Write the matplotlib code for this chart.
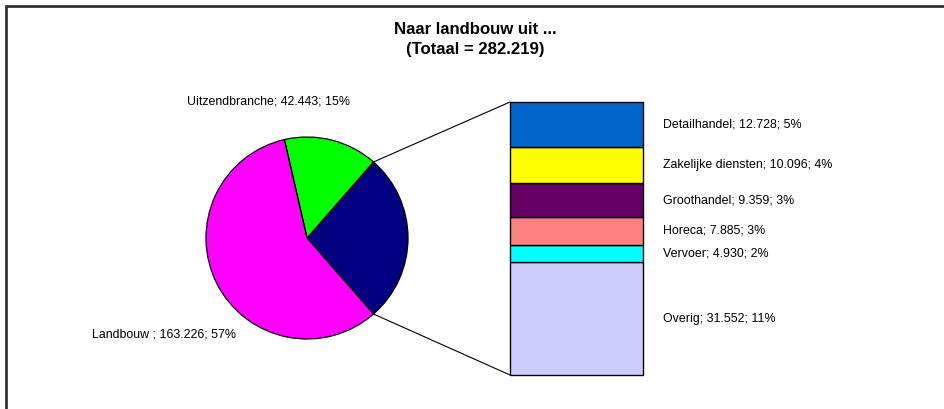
import matplotlib
matplotlib.use('Agg')
import matplotlib.pyplot as plt
import numpy as np
from matplotlib.patches import Rectangle, ConnectionPatch

plt.rcParams['font.family'] = ['Liberation Sans', 'DejaVu Sans']

# pie data
pie_labels = ['Landbouw ', 'Uitzendbranche']
pie_values = [163.226, 42.443]
pie_colors = ['#FF00FF', '#00FF00']
other_color = '#000080'

# bar (breakdown of the rest)
bar_labels = ['Detailhandel', 'Zakelijke diensten', 'Groothandel', 'Horeca', 'Vervoer', 'Overig']
bar_values = [12.728, 10.096, 9.359, 7.885, 4.930, 31.552]
bar_pcts = [5, 4, 3, 3, 2, 11]
bar_colors = ['#0066CC', '#FFFF00', '#660066', '#FF8080', '#00FFFF', '#CCCCFF']

total = 282.219
pie_pcts = [57, 15]

W, H = 945, 409
fig = plt.figure(figsize=(W / 100, H / 100), dpi=100)

def px_axes(x0, y0, x1, y1):
    return fig.add_axes([x0 / W, 1 - y1 / H, (x1 - x0) / W, (y1 - y0) / H])

# outer frame (cut off at right / bottom like the screenshot)
fig.patches.append(Rectangle((6 / W, -0.2), 1.2, 1.2 - 6 / H, transform=fig.transFigure,
                             fill=False, edgecolor='#333333', linewidth=2))

fig.text(475 / W, 1 - 30 / H, 'Naar landbouw uit ...', ha='center', va='center',
         fontsize=12.1, fontweight='bold')
fig.text(475 / W, 1 - 49.5 / H, '(Totaal = 282.219)', ha='center', va='center',
         fontsize=12.1, fontweight='bold')

# pie
ax_pie = px_axes(206, 137, 408, 339)
other_sum = sum(bar_values)
vals = [other_sum, pie_values[1], pie_values[0]]
cols = [other_color, pie_colors[1], pie_colors[0]]
start = -other_sum / total * 360 / 2
wedges, _ = ax_pie.pie(vals, colors=cols, startangle=start, counterclock=True,
                       wedgeprops=dict(edgecolor='black', linewidth=0.9))
ax_pie.set_xlim(-1, 1)
ax_pie.set_ylim(-1, 1)
ax_pie.set_aspect('equal')
ax_pie.axis('off')

ax_pie.text(-0.38, 1.35, f'{pie_labels[1]}; {pie_values[1]:.3f}; {pie_pcts[1]}%',
            ha='center', va='center', fontsize=8.9)
ax_pie.text(-1.42, -0.96, f'{pie_labels[0]}; {pie_values[0]:.3f}; {pie_pcts[0]}%',
            ha='center', va='center', fontsize=8.9)

# bar of pie
ax_bar = px_axes(510, 102, 643, 375)
bottom = 0
for lab, v, p, c in reversed(list(zip(bar_labels, bar_values, bar_pcts, bar_colors))):
    bars = ax_bar.bar(0.5, v, width=1, bottom=bottom, color=c, edgecolor='black', linewidth=1)
    for b in bars:
        b.set_clip_on(False)
    ax_bar.text(1.15, bottom + v / 2, f'{lab}; {v:.3f}; {p}%', ha='left', va='center',
                fontsize=8.9, clip_on=False)
    bottom += v
ax_bar.set_xlim(0, 1)
ax_bar.set_ylim(0, other_sum)
ax_bar.axis('off')

# connector lines
a1 = np.deg2rad(start)
a2 = np.deg2rad(start + other_sum / total * 360)
for ang, yb in [(a2, other_sum), (a1, 0)]:
    con = ConnectionPatch(xyA=(np.cos(ang), np.sin(ang)), coordsA=ax_pie.transData,
                          xyB=(0, yb), coordsB=ax_bar.transData,
                          color='black', linewidth=0.8)
    fig.add_artist(con)

fig.savefig('out.png', dpi=100, facecolor='white')
